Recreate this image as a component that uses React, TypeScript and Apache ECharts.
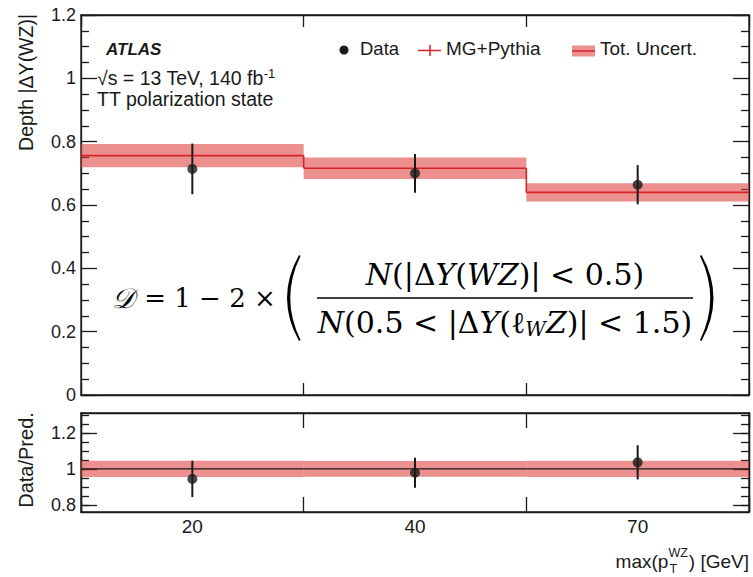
import React, { useEffect, useRef } from 'react';
import * as echarts from 'echarts';

// Bins of max(pT^WZ) and measured / predicted depth values
const binLabels = ['20', '40', '70'];
const predValues = [0.756, 0.716, 0.64];
const predUncert = [0.037, 0.034, 0.029];
const dataValues = [0.714, 0.7, 0.664];
const dataErrors = [0.08, 0.061, 0.062];

// Ratio panel
const ratioNominal = [1, 1, 1];
const ratioUncert = [0.045, 0.044, 0.045];
const ratioValues = [0.944, 0.978, 1.036];
const ratioErrors = [0.101, 0.083, 0.095];
const ratioMajorTicks = [0.8, 1, 1.2];
const ratioMinorTicks = [0.8, 0.85, 0.9, 0.95, 1, 1.05, 1.1, 1.15, 1.2, 1.25, 1.3];

const BAND = 'rgba(222, 62, 62, 0.58)';
const PRED_RED = '#d8222a';
const INK = '#1a1a1a';
const SANS = '"Liberation Sans", Arial, Helvetica, sans-serif';
const SERIF = '"DejaVu Serif", "Liberation Serif", serif';

const LEFT = 81;
const RIGHT_EDGE = 749;

// big parentheses drawn as filled crescents
const LPAREN = 'M16 0 Q-8 43 16 86 L17.5 85 Q-3 43 17.5 1 Z';
const RPAREN = 'M1.5 0 Q25.5 43 1.5 86 L0 85 Q20.5 43 0 1 Z';

function measure(text: string, font: string): number {
  const ctx = document.createElement('canvas').getContext('2d');
  if (!ctx) return text.length * 8;
  ctx.font = font;
  return ctx.measureText(text).width;
}

function bandSeries(xi: number, yi: number, centers: number[], widths: number[]) {
  return {
    type: 'custom',
    xAxisIndex: xi,
    yAxisIndex: yi,
    silent: true,
    z: 1,
    data: centers.map((c, i) => [i, c - widths[i], c + widths[i]]),
    renderItem: (_p: any, api: any) => {
      const lo = api.coord([api.value(0), api.value(1)]);
      const hi = api.coord([api.value(0), api.value(2)]);
      const w = api.size([1, 0])[0];
      return {
        type: 'rect',
        shape: { x: lo[0] - w / 2, y: hi[1], width: w, height: lo[1] - hi[1] },
        style: { fill: BAND },
      };
    },
  };
}

function stepSeries(xi: number, yi: number, values: number[], color: string, width: number) {
  return {
    type: 'custom',
    xAxisIndex: xi,
    yAxisIndex: yi,
    silent: true,
    z: 2,
    data: values.map((v, i) => [i, v, i > 0 ? values[i - 1] : v]),
    renderItem: (_p: any, api: any) => {
      const p = api.coord([api.value(0), api.value(1)]);
      const prev = api.coord([api.value(0), api.value(2)]);
      const w = api.size([1, 0])[0];
      const left = p[0] - w / 2;
      return {
        type: 'group',
        children: [
          { type: 'line', shape: { x1: left, y1: p[1], x2: p[0] + w / 2, y2: p[1] }, style: { stroke: color, lineWidth: width } },
          { type: 'line', shape: { x1: left, y1: prev[1], x2: left, y2: p[1] }, style: { stroke: color, lineWidth: width } },
        ],
      };
    },
  };
}

function errorSeries(xi: number, yi: number, values: number[], errors: number[]) {
  return {
    type: 'custom',
    xAxisIndex: xi,
    yAxisIndex: yi,
    silent: true,
    z: 3,
    data: values.map((v, i) => [i, v - errors[i], v + errors[i]]),
    renderItem: (_p: any, api: any) => {
      const lo = api.coord([api.value(0), api.value(1)]);
      const hi = api.coord([api.value(0), api.value(2)]);
      return {
        type: 'line',
        shape: { x1: lo[0], y1: lo[1], x2: hi[0], y2: hi[1] },
        style: { stroke: INK, lineWidth: 2 },
      };
    },
  };
}

function pointSeries(xi: number, yi: number, values: number[]) {
  return {
    type: 'scatter',
    xAxisIndex: xi,
    yAxisIndex: yi,
    silent: true,
    z: 4,
    symbol: 'circle',
    symbolSize: 10,
    itemStyle: { color: INK },
    data: values.map((v, i) => [i, v]),
  };
}

const axisLine = { show: true, onZero: false, lineStyle: { color: INK, width: 1.3 } };

function xAxisFor(grid: number, position: string, tickLen: number, labels: boolean) {
  return {
    type: 'category',
    gridIndex: grid,
    position,
    data: binLabels,
    boundaryGap: true,
    axisLine,
    axisTick: { show: true, inside: true, length: tickLen, alignWithLabel: false, lineStyle: { color: INK, width: 1.3 } },
    axisLabel: { show: labels, fontSize: 19, fontFamily: SANS, color: INK, margin: 5 },
    splitLine: { show: false },
  };
}

function mainYAxis(position: string, labels: boolean) {
  return {
    type: 'value',
    gridIndex: 0,
    position,
    min: 0,
    max: 1.2,
    interval: 0.2,
    axisLine,
    axisTick: { show: true, inside: true, length: 16, lineStyle: { color: INK, width: 1.3 } },
    minorTick: { show: true, splitNumber: 4, length: 8, lineStyle: { color: INK, width: 1.3 } },
    axisLabel: { show: labels, fontSize: 18, fontFamily: SANS, color: INK, margin: 5 },
    splitLine: { show: false },
    minorSplitLine: { show: false },
  };
}

function ratioYAxis(position: string, ticks: number[], len: number, labels: boolean) {
  return {
    type: 'value',
    gridIndex: 1,
    position,
    min: 0.76,
    max: 1.31,
    axisLine,
    axisTick: { show: true, inside: true, length: len, customValues: ticks, lineStyle: { color: INK, width: 1.3 } },
    axisLabel: { show: labels, customValues: ratioMajorTicks, fontSize: 18, fontFamily: SANS, color: INK, margin: 5 },
    splitLine: { show: false },
  };
}

export default function App() {
  const ref = useRef<HTMLDivElement>(null);

  useEffect(() => {
    if (!ref.current) return;
    echarts.graphic.registerShape('lparen', echarts.graphic.extendPath(LPAREN, {}));
    echarts.graphic.registerShape('rparen', echarts.graphic.extendPath(RPAREN, {}));
    const chart = echarts.init(ref.current, null, { renderer: 'svg' });

    // x-axis title: max(p_T^WZ) [GeV], right-aligned to the frame
    const titleFont = `19px ${SANS}`;
    const tail = ') [GeV]';
    const tailW = measure(tail, titleFont);
    const supW = measure('WZ', `12.5px ${SANS}`);
    const tailX = RIGHT_EDGE - tailW;
    const scriptX = tailX - supW - 1;

    const option: any = {
      animation: false,
      backgroundColor: '#ffffff',
      grid: [
        { left: LEFT, right: 753 - RIGHT_EDGE, top: 15, height: 380, show: true, borderColor: INK, borderWidth: 1.3 },
        { left: LEFT, right: 753 - RIGHT_EDGE, top: 413, height: 99, show: true, borderColor: INK, borderWidth: 1.3 },
      ],
      xAxis: [
        xAxisFor(0, 'bottom', 12, false),
        xAxisFor(0, 'top', 12, false),
        xAxisFor(1, 'bottom', 15, true),
        xAxisFor(1, 'top', 15, false),
      ],
      yAxis: [
        mainYAxis('left', true),
        mainYAxis('right', false),
        ratioYAxis('left', ratioMajorTicks, 16, true),
        ratioYAxis('right', ratioMajorTicks, 16, false),
        ratioYAxis('left', ratioMinorTicks, 8, false),
        ratioYAxis('right', ratioMinorTicks, 8, false),
      ],
      series: [
        bandSeries(0, 0, predValues, predUncert),
        stepSeries(0, 0, predValues, PRED_RED, 1.6),
        errorSeries(0, 0, dataValues, dataErrors),
        pointSeries(0, 0, dataValues),
        bandSeries(2, 2, ratioNominal, ratioUncert),
        stepSeries(2, 2, ratioNominal, INK, 1.3),
        errorSeries(2, 2, ratioValues, ratioErrors),
        pointSeries(2, 2, ratioValues),
      ],
      graphic: [
        // axis titles
        {
          type: 'text', x: 26, y: 14, rotation: Math.PI / 2,
          style: { text: 'Depth |ΔY(WZ)|', fontSize: 19.5, fontFamily: SANS, fill: INK, align: 'right', verticalAlign: 'middle' },
        },
        {
          type: 'text', x: 26, y: 460, rotation: Math.PI / 2,
          style: { text: 'Data/Pred.', fontSize: 20, fontFamily: SANS, fill: INK, align: 'center', verticalAlign: 'middle' },
        },
        { type: 'text', x: scriptX, y: 561, style: { text: 'max(p', font: titleFont, fill: INK, align: 'right', verticalAlign: 'middle' } },
        { type: 'text', x: scriptX, y: 553, style: { text: 'WZ', fontSize: 12.5, fontFamily: SANS, fill: INK, align: 'left', verticalAlign: 'middle' } },
        { type: 'text', x: scriptX + 1, y: 569, style: { text: 'T', fontSize: 12.5, fontFamily: SANS, fill: INK, align: 'left', verticalAlign: 'middle' } },
        { type: 'text', x: tailX, y: 561, style: { text: tail, font: titleFont, fill: INK, align: 'left', verticalAlign: 'middle' } },

        // ATLAS label block
        {
          type: 'text', x: 106, y: 49,
          style: { text: 'ATLAS', fontSize: 17, fontWeight: 'bold', fontStyle: 'italic', fontFamily: SANS, fill: INK, verticalAlign: 'middle' },
        },
        {
          type: 'text', x: 97, y: 78,
          style: {
            text: '√s = 13 TeV, 140 fb{sup|-1}', fontSize: 19.5, fontFamily: SANS, fill: INK, verticalAlign: 'middle', lineHeight: 23,
            rich: { sup: { fontSize: 13, fontFamily: SANS, verticalAlign: 'top', lineHeight: 13 } },
          },
        },
        {
          type: 'text', x: 97, y: 99,
          style: { text: 'TT polarization state', fontSize: 19.5, fontFamily: SANS, fill: INK, verticalAlign: 'middle' },
        },

        // legend
        { type: 'circle', shape: { cx: 344, cy: 50, r: 4.5 }, style: { fill: INK } },
        { type: 'text', x: 360, y: 48, style: { text: 'Data', fontSize: 18.5, fontFamily: SANS, fill: INK, verticalAlign: 'middle' } },
        { type: 'line', shape: { x1: 418, y1: 50.5, x2: 441, y2: 50.5 }, style: { stroke: PRED_RED, lineWidth: 1.5 } },
        { type: 'line', shape: { x1: 430, y1: 45, x2: 430, y2: 56 }, style: { stroke: PRED_RED, lineWidth: 1.5 } },
        { type: 'text', x: 446, y: 48, style: { text: 'MG+Pythia', fontSize: 19, fontFamily: SANS, fill: INK, verticalAlign: 'middle' } },
        { type: 'rect', shape: { x: 572, y: 45.5, width: 23, height: 11 }, style: { fill: BAND } },
        { type: 'line', shape: { x1: 572, y1: 51, x2: 595, y2: 51 }, style: { stroke: PRED_RED, lineWidth: 1.5 } },
        { type: 'text', x: 600, y: 48, style: { text: 'Tot. Uncert.', fontSize: 19, fontFamily: SANS, fill: INK, verticalAlign: 'middle' } },

        // depth definition
        {
          type: 'text', x: 112, y: 298,
          style: {
            text: '{cal|𝒟} = 1 − 2 ×', fontSize: 26, fontFamily: SERIF, fill: '#000', verticalAlign: 'middle', align: 'left',
            rich: { cal: { fontSize: 28, fontFamily: SERIF, fontStyle: 'italic', padding: [0, 2, 0, 0] } },
          },
        },
        { type: 'lparen', x: 283, y: 255, style: { fill: '#000' } },
        {
          type: 'text', x: 505, y: 274,
          style: {
            text: '{i|N}(|Δ{i|Y}({i|WZ})| < 0.5)', fontSize: 30, fontFamily: SERIF, fill: '#000', align: 'center', verticalAlign: 'middle', lineHeight: 34,
            rich: { i: { fontSize: 30, fontFamily: SERIF, fontStyle: 'italic', lineHeight: 34 } },
          },
        },
        { type: 'line', shape: { x1: 317, y1: 298, x2: 693, y2: 298 }, style: { stroke: '#000', lineWidth: 1.4 } },
        {
          type: 'text', x: 505, y: 322,
          style: {
            text: '{i|N}(0.5 < |Δ{i|Y}(ℓ{s|W}{i|Z})| < 1.5)', fontSize: 30, fontFamily: SERIF, fill: '#000', align: 'center', verticalAlign: 'middle', lineHeight: 34,
            rich: {
              i: { fontSize: 30, fontFamily: SERIF, fontStyle: 'italic', lineHeight: 34 },
              s: { fontSize: 20, fontFamily: SERIF, fontStyle: 'italic', lineHeight: 20, verticalAlign: 'bottom' },
            },
          },
        },
        { type: 'rparen', x: 700, y: 255, style: { fill: '#000' } },
      ],
    };

    chart.setOption(option);
    return () => chart.dispose();
  }, []);

  return (
    <div
      ref={ref}
      style={{ position: 'fixed', left: 0, top: 0, width: 753, height: 577, background: '#ffffff' }}
    />
  );
}
